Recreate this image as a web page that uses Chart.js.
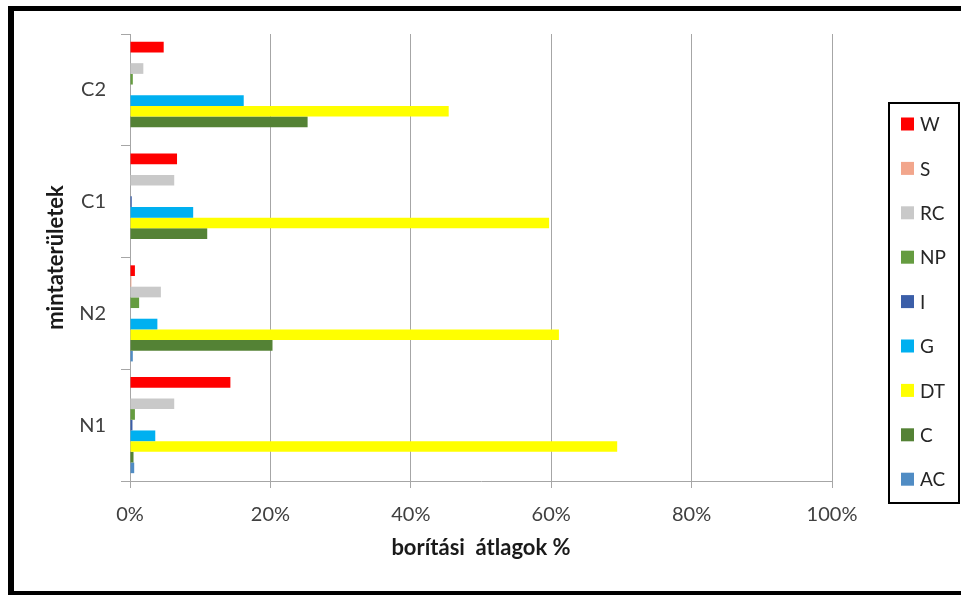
<!DOCTYPE html>
<html>
<head>
<meta charset="utf-8">
<title>borítási átlagok</title>
<script src="https://cdn.jsdelivr.net/npm/chart.js@4/dist/chart.umd.min.js"></script>
<style>
  html, body { margin: 0; padding: 0; background: #fff; }
  canvas { display: block; }
</style>
</head>
<body>
<canvas id="chart" width="961" height="595"></canvas>
<script>
// =============================================
// ADATOK (borítási átlagok %, mintaterületenként)
// =============================================
const categories = ["C2", "C1", "N2", "N1"];

const seriesNames = ["W", "S", "RC", "NP", "I", "G", "DT", "C", "AC"];

const W  = [4.8, 6.7, 0.7, 14.3];
const S  = [0, 0, 0.2, 0];
const RC = [1.9, 6.3, 4.4, 6.3];
const NP = [0.4, 0, 1.3, 0.7];
const I  = [0, 0.25, 0, 0.35];
const G  = [16.2, 9.0, 3.9, 3.6];
const DT = [45.4, 59.7, 61.1, 69.4];
const C  = [25.3, 11.0, 20.3, 0.5];
const AC = [0, 0, 0.4, 0.6];

const xTicks = [0, 20, 40, 60, 80, 100];

const seriesValues = [W, S, RC, NP, I, G, DT, C, AC];

const seriesColors = [
  "#ff0000", "#f2a68c", "#c9c9c9", "#659c40", "#3b5ea8",
  "#00b0f0", "#ffff00", "#548235", "#508cc4"
];

const FONT  = "Lato, 'Liberation Sans', sans-serif";
const GRID  = "#a6a6a6";

// keret + jelmagyarázat, kézzel rajzolva
const framePlugin = {
  id: "frameAndLegend",
  afterDraw(chart) {
    const ctx = chart.ctx;
    ctx.save();

    ctx.fillStyle = "#000";
    ctx.fillRect(8, 6, 6, 589);
    ctx.fillRect(8, 6, 953, 5);
    ctx.fillRect(8, 591, 953, 4);

    ctx.lineWidth = 2;
    ctx.strokeStyle = "#000";
    ctx.strokeRect(889, 103, 70, 400);

    ctx.font = "19px " + FONT;
    ctx.textBaseline = "middle";
    ctx.textAlign = "left";
    chart.data.datasets.forEach((ds, i) => {
      const y = 124 + i * 44.4;
      ctx.fillStyle = ds.backgroundColor;
      ctx.fillRect(901, y - 6.5, 13, 13);
      ctx.fillStyle = "#262626";
      ctx.fillText(ds.label, 920, y + 1);
    });

    ctx.restore();
  }
};

const datasets = seriesNames.map((name, i) => ({
  label:           name,
  data:            seriesValues[i],
  backgroundColor: seriesColors[i],
  borderWidth:     0,
  barPercentage:   1.0,
  categoryPercentage: 0.86
}));

new Chart(document.getElementById("chart"), {
  type: "bar",
  data: { labels: categories, datasets },
  plugins: [framePlugin],
  options: {
    indexAxis: "y",
    responsive: false,
    animation: false,
    layout: { padding: { top: 34, right: 129, bottom: 0, left: 0 } },
    plugins: {
      legend:  { display: false },
      tooltip: { enabled: false }
    },
    scales: {
      x: {
        min: 0,
        max: 100,
        afterFit: scale => { scale.height = 114; },
        afterBuildTicks: scale => { scale.ticks = xTicks.map(v => ({ value: v })); },
        ticks: {
          callback: val => `${val}%`,
          color: "#404040",
          padding: 15,
          font: { family: FONT, size: 20 },
          maxRotation: 0
        },
        grid:   { color: GRID, lineWidth: 1, tickLength: 7 },
        border: { color: GRID, width: 1 },
        title: {
          display: true,
          text: "borítási  átlagok %",
          color: "#1a1a1a",
          font: { family: FONT, size: 22, weight: "bold" },
          padding: { top: 0, bottom: 34 }
        }
      },
      y: {
        afterFit: scale => { scale.width = 130; },
        ticks: {
          color: "#404040",
          padding: 15,
          font: { family: FONT, size: 20 }
        },
        grid:   { drawOnChartArea: false, color: GRID, tickLength: 9 },
        border: { color: GRID, width: 1 },
        title: {
          display: true,
          text: "mintaterületek",
          color: "#1a1a1a",
          font: { family: FONT, size: 22, weight: "bold" },
          padding: { top: 43, bottom: 0 }
        }
      }
    }
  }
});
</script>
</body>
</html>
